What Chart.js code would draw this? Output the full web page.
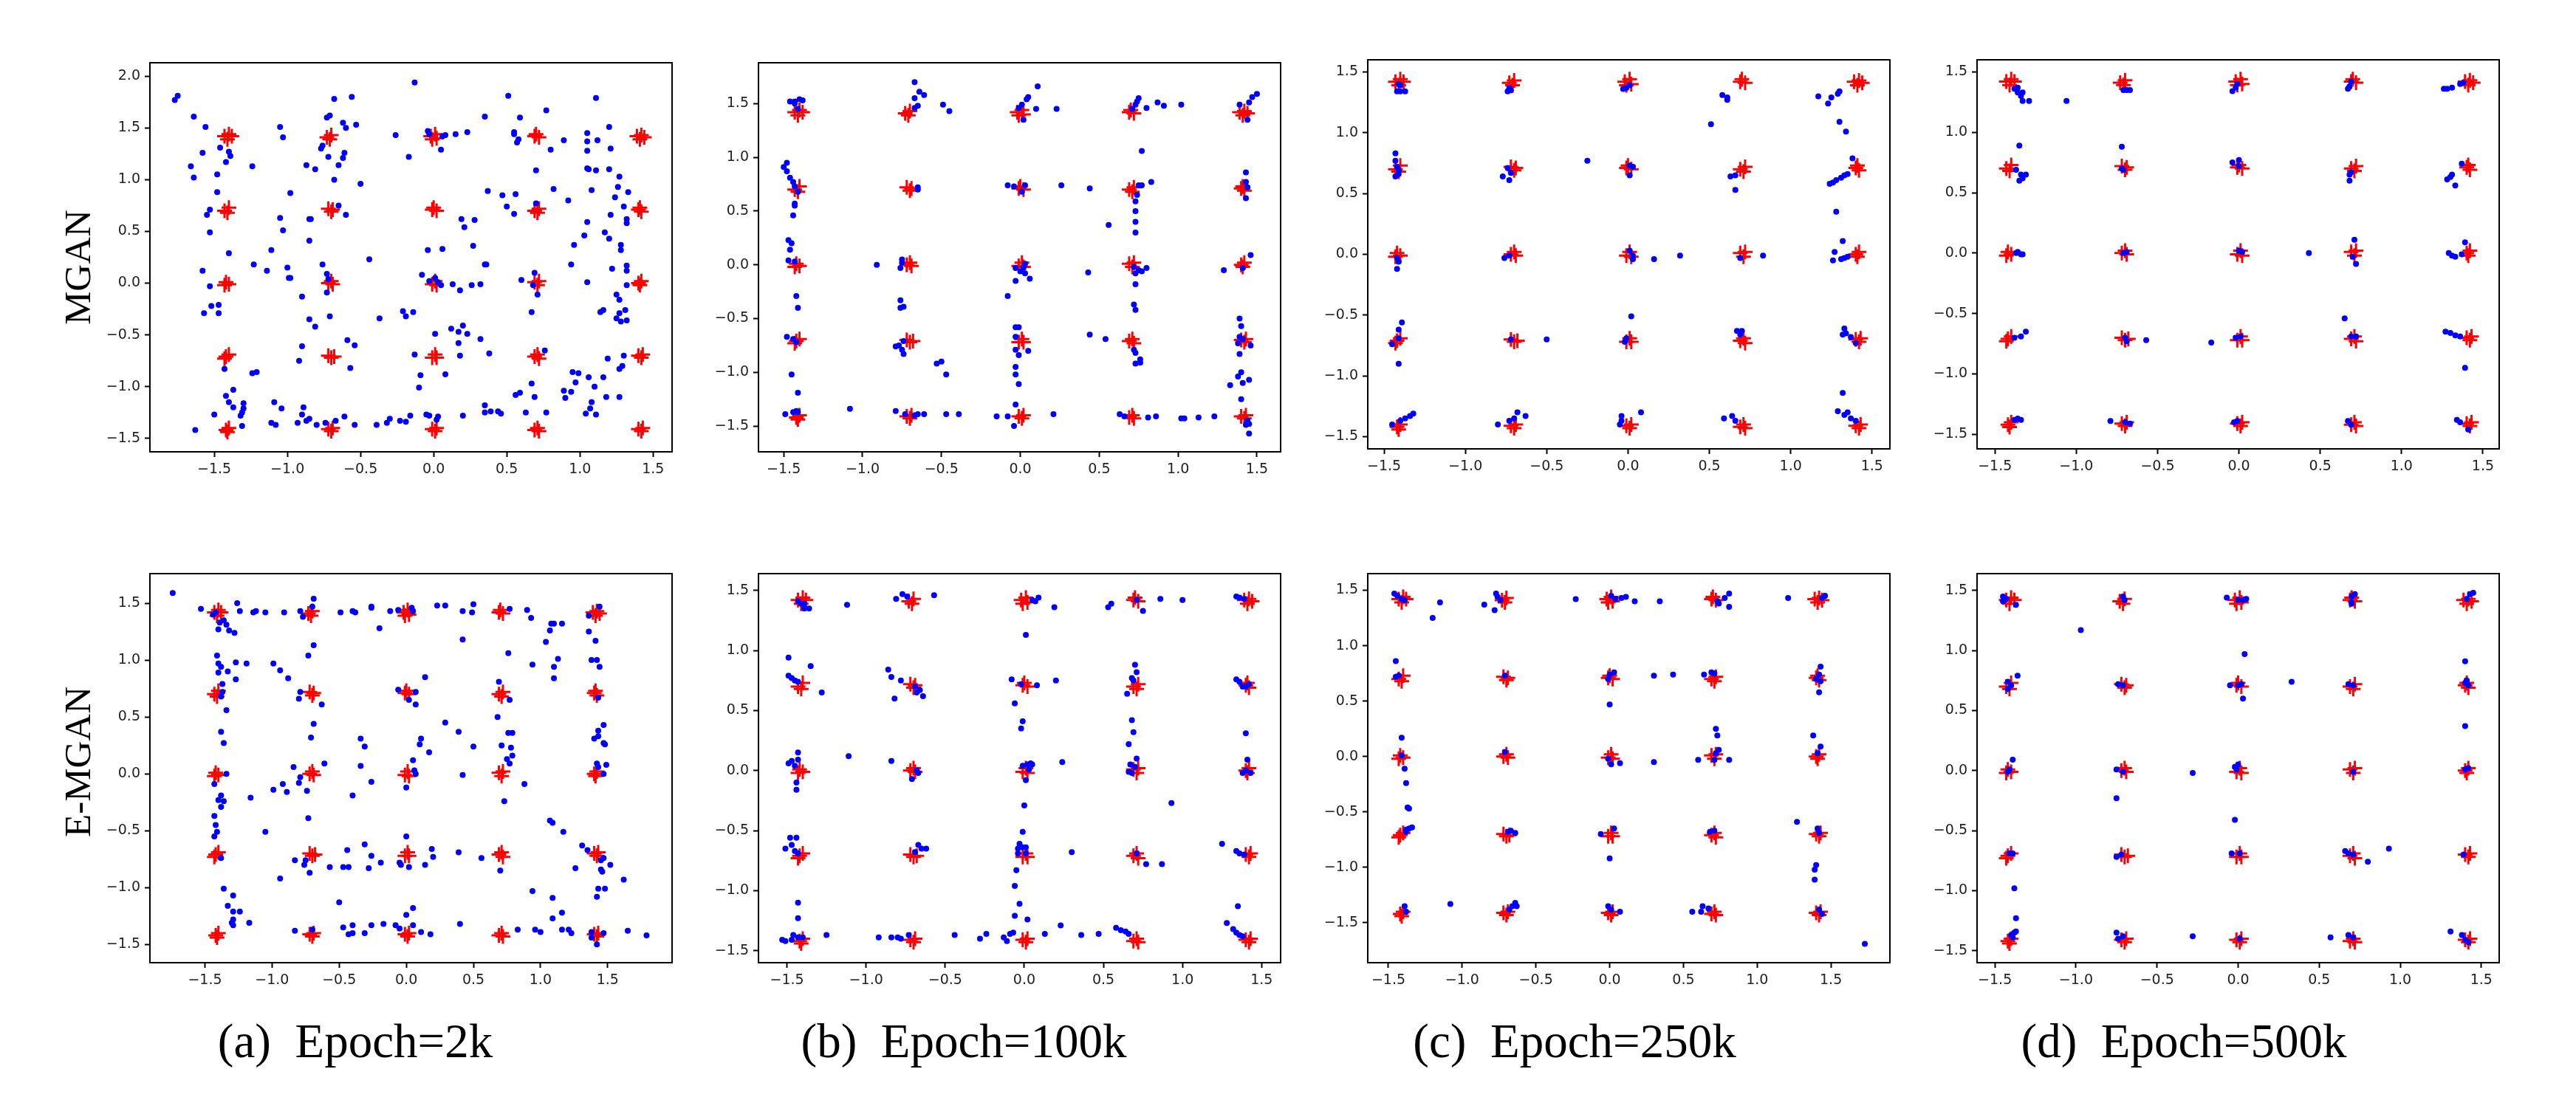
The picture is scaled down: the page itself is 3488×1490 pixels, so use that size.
<!DOCTYPE html>
<html>
<head>
<meta charset="utf-8">
<script src="https://cdn.jsdelivr.net/npm/chart.js@4.4.0/dist/chart.umd.min.js"></script>
<style>
  html, body { margin: 0; padding: 0; background: #fff; }
  #page { position: relative; width: 3488px; height: 1490px; overflow: hidden; }
  canvas { position: absolute; }
  .rowlab, .cap { position: absolute; font-family: "Liberation Serif", serif; color: #000; white-space: pre; }
  .rowlab { font-size: 51px; transform: translate(-50%, -50%) rotate(-90deg); }
  .cap { font-size: 65px; transform: translate(-50%, -50%); }
</style>
</head>
<body>
<div id="page"></div>
<script>
// real samples (red +), same 5x5 grid of gaussians in every panel
const realPts = [
  [-1.43,1.42],[-1.40,1.44],[-1.41,1.39],[-1.38,1.42],
  [-0.73,1.41],[-0.70,1.43],[-0.71,1.39],
  [-0.02,1.42],[0.01,1.44],[0.02,1.40],[-0.01,1.39],
  [0.69,1.42],[0.72,1.41],[0.70,1.44],
  [1.39,1.42],[1.42,1.43],[1.41,1.39],[1.44,1.41],
  [-1.43,0.70],[-1.40,0.73],[-1.41,0.68],
  [-0.72,0.72],[-0.70,0.69],[-0.69,0.71],
  [-0.01,0.71],[0.02,0.70],[0.0,0.73],
  [0.69,0.70],[0.72,0.72],[0.71,0.68],
  [1.40,0.71],[1.42,0.69],[1.41,0.73],
  [-1.42,0.01],[-1.40,-0.01],[-1.43,-0.02],
  [-0.72,0.0],[-0.70,0.02],[-0.69,-0.01],
  [-0.01,-0.01],[0.01,0.02],[0.02,-0.02],
  [0.69,0.01],[0.71,-0.02],[0.72,0.02],
  [1.40,0.0],[1.42,0.02],[1.41,-0.02],
  [-1.42,-0.71],[-1.40,-0.69],[-1.43,-0.73],
  [-0.72,-0.70],[-0.70,-0.72],[-0.68,-0.71],
  [-0.01,-0.72],[0.01,-0.69],[0.02,-0.72],
  [0.69,-0.71],[0.71,-0.69],[0.72,-0.73],
  [1.40,-0.70],[1.42,-0.72],[1.43,-0.69],
  [-1.42,-1.42],[-1.40,-1.40],[-1.41,-1.44],
  [-0.72,-1.41],[-0.70,-1.43],[-0.69,-1.40],
  [-0.01,-1.41],[0.01,-1.43],[0.02,-1.40],
  [0.69,-1.42],[0.71,-1.40],[0.72,-1.43],
  [1.40,-1.41],[1.42,-1.43],[1.43,-1.40]
];

// generated samples (blue dots), MGAN row
const fakeA1 = [
  [-1.77,1.77],[-1.75,1.81],[-1.64,1.61],[-1.56,1.51],[-1.58,1.26],[-1.66,1.13],[-1.64,1.02],
  [-1.46,1.31],[-1.40,1.27],[-1.39,1.23],[-1.42,1.17],[-1.48,1.05],[-1.48,0.88],[-1.53,0.71],[-1.55,0.66],
  [-1.53,0.49],[-1.40,0.29],[-1.58,0.12],[-1.53,-0.03],[-1.57,-0.29],[-1.52,-0.22],[-1.47,-0.21],[-1.47,-0.29],
  [-1.43,-0.83],[-1.42,-1.09],[-1.37,-1.03],[-1.40,-1.15],[-1.37,-1.20],[-1.30,-1.16],[-1.30,-1.21],[-1.31,-1.25],[-1.32,-1.28],
  [-1.50,-1.27],[-1.63,-1.42],[-1.31,-1.38],
  [-1.24,1.13],[-1.05,1.51],[-1.03,1.41],[-1.05,0.63],[-1.03,0.51],[-1.11,0.32],[-1.23,0.18],[-1.14,0.12],
  [-1.00,0.15],[-0.99,0.05],[-0.98,0.05],[-0.98,0.87],[-0.87,1.14],[-0.81,1.10],[-0.76,1.33],[-0.77,1.30],
  [-0.73,1.60],[-0.71,1.62],[-0.68,1.78],[-0.56,1.80],[-0.62,1.55],[-0.60,1.50],[-0.53,1.53],
  [-0.72,1.22],[-0.61,1.26],[-0.62,1.21],[-0.65,1.14],[-0.68,1.00],[-0.50,0.96],[-0.65,0.75],[-0.60,0.66],
  [-0.85,0.62],[-0.84,0.62],[-0.85,0.41],[-0.76,0.18],[-0.73,0.09],[-0.72,0.04],[-0.73,-0.09],[-0.90,-0.13],
  [-0.71,-0.32],[-0.85,-0.35],[-0.81,-0.42],[-0.90,-0.61],[-0.92,-0.75],[-0.59,-0.55],[-0.54,-0.60],[-0.57,-0.82],
  [-0.44,0.23],[-0.37,-0.34],[-1.24,-0.87],[-1.21,-0.86],[-1.09,-1.15],[-1.04,-1.21],[-1.11,-1.35],[-1.08,-1.37],
  [-0.89,-1.20],[-0.90,-1.27],[-0.93,-1.35],[-0.87,-1.33],[-0.85,-1.31],[-0.80,-1.37],[-0.74,-1.35],
  [-0.67,-1.33],[-0.61,-1.29],[-0.54,-1.37],[-0.39,-1.37],[-0.32,-1.35],[-0.30,-1.31],[-0.23,-1.33],[-0.19,-1.34],[-0.16,-1.28],
  [-0.26,1.43],[-0.13,1.94],[-0.17,1.22],[-0.04,1.47],[-0.03,1.44],[0.08,1.43],[0.06,1.42],[0.15,1.44],[0.23,1.46],[0.05,1.29],
  [-0.13,-0.69],[-0.09,-0.89],[-0.10,-1.01],[-0.21,-0.27],[-0.19,-0.32],[-0.14,-0.28],[-0.08,0.08],[-0.04,0.32],[0.06,0.33],
  [-0.03,0.02],[0.01,0.05],[0.03,0.01],[0.05,-0.02],[0.13,-0.01],[0.18,-0.07],[0.26,-0.02],[0.32,-0.01],
  [0.19,0.62],[0.21,0.54],[0.28,0.61],[0.27,0.36],[0.35,0.18],[0.36,0.18],[0.01,-0.49],
  [0.12,-0.44],[0.17,-0.47],[0.20,-0.41],[0.23,-0.49],[0.32,-0.54],[0.17,-0.58],[0.18,-0.70],[0.08,-0.88],[0.38,-0.68],
  [0.20,-1.28],[-0.05,-1.27],[-0.03,-1.28],[0.03,-1.29],[0.02,-1.32],
  [0.35,-1.18],[0.35,-1.25],[0.39,-1.24],[0.44,-1.24],[0.46,-1.26],
  [0.35,1.61],[0.51,1.81],[0.59,1.60],[0.55,1.44],[0.55,1.46],[0.57,1.36],[0.58,1.39],[0.77,1.67],[0.89,1.38],[0.80,1.29],[0.70,1.09],
  [0.37,0.89],[0.47,0.85],[0.56,0.86],[0.50,0.74],[0.55,0.67],[0.70,0.77],[0.82,0.91],[0.92,0.80],
  [0.60,0.03],[0.69,0.10],[0.68,-0.02],[0.71,-0.11],[0.67,-0.28],[0.76,-0.65],[0.67,-0.97],[0.69,-1.10],[0.56,-1.08],[0.59,-1.06],
  [0.63,-1.25],[0.77,-1.25],[0.89,-1.04],[0.90,-1.11],[0.94,-1.05],[0.95,-0.86],[0.99,-0.87],[0.97,-0.96],
  [1.06,-0.91],[1.10,-1.00],[1.08,-1.15],[1.07,-1.21],[1.04,-1.26],[1.11,-1.27],[1.18,-1.10],[1.27,-1.10],
  [1.16,-0.91],[1.27,-0.83],[1.29,-0.80],[1.19,-0.73],[1.30,-0.70],
  [1.05,1.45],[1.05,1.37],[1.05,1.28],[1.12,1.38],[1.11,1.79],[1.20,1.51],[1.21,1.30],
  [1.06,1.10],[1.05,1.11],[1.11,1.09],[1.20,1.10],[1.27,1.03],[1.08,0.90],[1.26,0.93],[1.33,0.88],
  [1.24,0.83],[1.30,0.74],[1.21,0.66],[1.32,0.62],[1.32,0.58],[1.05,0.59],[1.03,0.46],[0.96,0.37],[1.17,0.49],[1.20,0.43],
  [1.28,0.37],[1.28,0.32],[0.94,0.18],[1.22,0.14],[1.32,0.17],[1.32,0.12],[1.32,-0.02],[1.05,0.01],[1.25,-0.11],[1.27,-0.16],
  [1.14,-0.28],[1.16,-0.26],[1.27,-0.29],[1.25,-0.34],[1.31,-0.26],[1.32,-0.36],[1.28,-0.37]
];
const fakeB1 = [
  [-1.46,1.52],[-1.43,1.52],[-1.40,1.54],[-1.38,1.53],[-1.41,1.45],[-1.43,1.50],
  [-1.50,0.91],[-1.48,0.95],[-1.48,0.87],[-1.46,0.81],[-1.44,0.77],[-1.43,0.73],[-1.41,0.68],[-1.43,0.57],[-1.43,0.55],[-1.44,0.46],
  [-1.47,0.23],[-1.45,0.20],[-1.46,0.14],[-1.47,0.04],[-1.43,0.03],[-1.42,-0.29],[-1.41,-0.40],
  [-1.48,-0.67],[-1.44,-0.69],[-1.42,-0.72],[-1.45,-1.02],[-1.41,-1.19],
  [-1.49,-1.39],[-1.44,-1.37],[-1.42,-1.36],[-1.41,-1.37],[-1.08,-1.34],
  [-0.67,1.70],[-0.64,1.61],[-0.61,1.58],[-0.67,1.55],[-0.65,1.48],[-0.67,1.46],[-0.49,1.49],[-0.45,1.43],
  [-0.65,0.72],[-0.65,0.70],[-0.91,0.00],[-0.75,0.05],[-0.76,-0.03],[-0.75,0.02],
  [-0.76,-0.33],[-0.76,-0.40],[-0.74,-0.39],
  [-0.79,-0.76],[-0.77,-0.75],[-0.75,-0.79],[-0.74,-0.83],[-0.74,-0.71],[-0.53,-0.92],[-0.50,-0.90],[-0.47,-1.02],
  [-0.79,-1.36],[-0.73,-1.39],[-0.67,-1.40],[-0.65,-1.39],[-0.61,-1.39],[-0.47,-1.39],[-0.39,-1.39],
  [0.11,1.66],[0.04,1.54],[0.05,1.56],[0.01,1.49],[-0.01,1.46],[0.02,1.35],[0.10,1.45],[0.23,1.45],
  [-0.08,0.74],[-0.04,0.73],[0.01,0.68],[0.03,0.74],[0.26,0.74],[0.44,0.71],
  [-0.03,-0.03],[0.00,-0.06],[0.02,-0.03],[0.03,0.01],[-0.03,-0.15],[0.06,-0.13],[0.03,-0.08],
  [-0.08,-0.29],[0.43,-0.07],[0.56,0.37],
  [-0.03,-0.58],[-0.01,-0.58],[-0.03,-0.67],[-0.03,-0.79],[-0.01,-0.84],[0.05,-0.80],[-0.03,-0.95],[-0.03,-1.02],[-0.01,-1.11],[-0.03,-1.30],
  [-0.15,-1.41],[-0.08,-1.41],[-0.04,-1.50],[0.21,-1.39],[0.44,-0.65],[0.54,-0.69],
  [0.75,1.55],[0.74,1.52],[0.73,1.49],[0.71,1.45],[0.80,1.46],[0.87,1.51],[0.91,1.48],[1.02,1.49],[0.77,1.06],
  [0.83,0.77],[0.75,0.74],[0.77,0.74],[0.74,0.65],[0.73,0.59],[0.73,0.50],[0.73,0.40],[0.73,0.30],
  [0.72,-0.02],[0.75,-0.05],[0.73,-0.08],[0.77,-0.06],[0.80,-0.03],[0.73,-0.18],[0.72,-0.37],[0.73,-0.42],
  [0.72,-0.79],[0.73,-0.82],[0.76,-0.88],[0.76,-0.91],[0.73,-0.92],
  [0.63,-1.39],[0.66,-1.41],[0.81,-1.42],[0.86,-1.41],[1.02,-1.43],[1.04,-1.43],[1.13,-1.42],[1.23,-1.41],
  [1.39,1.49],[1.45,1.51],[1.47,1.56],[1.50,1.59],[1.44,1.35],
  [1.43,0.86],[1.43,0.77],[1.44,0.72],[1.43,0.62],[1.46,0.09],[1.41,-0.03],[1.29,-0.05],
  [1.39,-0.50],[1.40,-0.57],[1.39,-0.67],[1.41,-0.69],[1.38,-0.73],[1.46,-0.75],[1.39,-0.83],
  [1.40,-1.00],[1.38,-1.04],[1.33,-1.12],[1.41,-1.10],[1.45,-1.07],[1.40,-1.25],
  [1.44,-1.45],[1.45,-1.48],[1.45,-1.57],[1.43,-1.49]
];
const fakeC1 = [
  [-1.41,1.40],[-1.40,1.39],[-1.42,1.34],[-1.40,1.34],[-1.37,1.34],
  [-1.43,0.83],[-1.43,0.77],[-1.42,0.72],[-1.41,0.69],[-1.43,0.64],[-1.41,0.66],
  [-1.42,-0.03],[-1.41,-0.06],[-1.42,-0.12],
  [-1.39,-0.56],[-1.41,-0.62],[-1.41,-0.69],[-1.45,-0.74],[-1.41,-0.90],
  [-1.45,-1.40],[-1.40,-1.37],[-1.37,-1.35],[-1.34,-1.33],[-1.32,-1.31],
  [-0.73,1.37],[-0.72,1.35],[-0.74,1.34],
  [-0.77,0.64],[-0.73,0.61],[-0.74,0.71],[-0.72,0.67],[-0.25,0.77],
  [-0.76,-0.03],[-0.73,-0.01],[-0.50,-0.70],[-0.72,-0.70],
  [-0.80,-1.40],[-0.73,-1.37],[-0.70,-1.35],[-0.68,-1.30],[-0.63,-1.33],
  [-0.03,1.36],[-0.01,1.37],[0.01,1.39],
  [0.01,0.73],[0.03,0.72],[0.01,0.65],
  [0.01,0.03],[0.03,-0.01],[0.03,-0.04],[0.16,-0.04],[0.32,-0.01],[0.83,-0.01],
  [0.02,-0.51],[-0.01,-0.69],[-0.02,-0.72],
  [-0.04,-1.33],[-0.04,-1.37],[-0.05,-1.40],[0.08,-1.30],
  [0.58,1.31],[0.61,1.29],[0.61,1.27],[0.51,1.07],
  [0.63,0.64],[0.66,0.65],[0.66,0.53],[0.69,-0.03],
  [0.67,-0.63],[0.69,-0.66],[0.70,-0.63],
  [0.59,-1.35],[0.64,-1.33],[0.66,-1.37],
  [1.17,1.30],[1.23,1.24],[1.25,1.29],[1.29,1.32],[1.30,1.34],[1.30,1.09],[1.34,1.01],
  [1.38,0.79],[1.24,0.58],[1.26,0.59],[1.28,0.61],[1.31,0.63],[1.33,0.65],[1.35,0.66],
  [1.28,0.35],[1.32,0.11],
  [1.26,-0.05],[1.27,0.02],[1.31,-0.04],[1.33,-0.03],[1.35,-0.02],
  [1.33,-0.61],[1.34,-0.65],[1.32,-0.66],[1.37,-0.68],[1.40,-0.73],
  [1.32,-1.14],[1.29,-1.29],[1.33,-1.32],[1.35,-1.30],[1.37,-1.35],[1.40,-1.37]
];
const fakeD1 = [
  [-1.38,1.36],[-1.36,1.37],[-1.36,1.33],[-1.34,1.30],[-1.33,1.33],[-1.33,1.26],[-1.29,1.26],[-1.06,1.26],
  [-1.35,0.89],[-1.37,0.69],[-1.34,0.65],[-1.33,0.62],[-1.31,0.65],[-1.35,0.60],
  [-1.36,0.01],[-1.34,-0.01],[-1.33,-0.01],[-1.37,0.00],
  [-1.38,-0.70],[-1.34,-0.69],[-1.31,-0.65],
  [-1.38,-1.38],[-1.36,-1.37],[-1.34,-1.38],
  [-0.72,0.88],[-0.72,0.70],[-0.71,0.69],[-0.71,1.35],[-0.69,1.35],[-0.67,1.35],
  [-0.71,0.00],[-0.69,0.01],[-0.57,-0.72],[-0.17,-0.74],[-0.70,-0.70],[-0.69,-0.73],
  [-0.79,-1.39],[-0.70,-1.40],[-0.67,-1.41],
  [-0.04,1.34],[-0.02,1.37],[-0.01,1.40],[-0.04,0.75],[0.00,0.77],[0.00,0.72],
  [0.00,0.02],[0.02,0.01],[0.43,0.00],[-0.02,-0.70],[0.01,-0.69],[-0.03,-1.40],[-0.01,-1.39],
  [0.68,1.38],[0.69,1.42],[0.67,1.36],[0.68,0.60],[0.68,0.65],[0.69,0.67],
  [0.71,0.11],[0.70,-0.03],[0.72,-0.09],[0.65,-0.54],[0.69,-0.69],[0.72,-0.69],[0.67,-1.39],[0.69,-1.42],
  [1.26,1.36],[1.28,1.36],[1.31,1.37],[1.36,1.40],[1.38,1.41],
  [1.37,0.74],[1.28,0.61],[1.30,0.63],[1.31,0.65],[1.33,0.56],
  [1.39,0.09],[1.29,0.00],[1.31,-0.02],[1.33,-0.03],[1.37,-0.01],
  [1.27,-0.65],[1.30,-0.66],[1.33,-0.68],[1.36,-0.69],[1.39,-0.95],
  [1.34,-1.38],[1.36,-1.40],[1.41,-1.46]
];

// generated samples (blue dots), E-MGAN row
const fakeA2 = [
  [-1.74,1.59],[-1.53,1.45],[-1.44,1.40],[-1.42,1.42],
  [-1.26,1.50],[-1.24,1.43],[-1.14,1.42],[-1.12,1.43],[-1.05,1.42],[-0.91,1.42],[-0.79,1.43],[-0.77,1.38],
  [-0.69,1.54],[-0.70,1.47],
  [-0.49,1.42],[-0.40,1.43],[-0.38,1.42],[-0.26,1.46],[-0.26,1.47],[-0.12,1.43],[-0.06,1.44],[0.04,1.46],[0.05,1.43],
  [0.23,1.48],[0.29,1.48],[0.42,1.43],[0.50,1.49],[0.49,1.42],[0.77,1.45],[0.90,1.44],[0.93,1.37],
  [1.08,1.32],[1.10,1.32],[1.16,1.32],[1.07,1.26],[1.04,1.16],
  [1.36,1.39],[1.44,1.47],[1.36,1.25],[1.41,1.17],
  [-1.39,1.33],[-1.36,1.35],[-1.34,1.31],[-1.32,1.26],[-1.28,1.24],[-1.40,1.27],
  [-1.41,1.04],[-1.40,0.97],[-1.38,0.94],[-1.40,0.89],[-1.33,0.90],[-1.27,0.98],[-1.19,0.97],[-1.27,0.83],[-1.37,0.79],
  [-1.37,0.72],[-1.38,0.68],[-1.34,0.56],[-1.38,0.37],[-1.36,0.27],
  [-1.34,0.00],[-1.43,-0.09],[-1.40,-0.23],[-1.38,-0.19],[-1.36,-0.24],[-1.38,-0.29],
  [-1.43,-0.37],[-1.42,-0.45],[-1.41,-0.51],[-1.43,-0.55],[-1.38,-0.74],
  [-1.36,-1.01],[-1.29,-1.07],[-1.33,-1.16],[-1.29,-1.21],[-1.24,-1.21],[-1.29,-1.28],[-1.30,-1.31],[-1.29,-1.33],[-1.17,-1.31],
  [-1.16,-0.21],
  [-0.99,0.97],[-0.94,0.91],[-0.88,0.84],[-0.79,0.72],[-0.80,0.66],[-0.69,1.13],[-0.73,1.04],
  [-0.63,0.61],[-0.69,0.44],[-0.71,0.32],
  [-0.84,0.06],[-0.61,0.09],[-0.79,-0.03],[-0.80,-0.08],[-0.92,-0.09],[-0.89,-0.16],[-0.99,-0.14],[-0.74,-0.15],
  [-0.73,-0.39],[-1.05,-0.51],
  [-0.83,-0.76],[-0.75,-0.76],[-0.76,-0.80],[-0.72,-0.87],[-0.94,-0.92],
  [-0.57,-0.82],[-0.47,-0.82],[-0.43,-0.82],[-0.44,-0.67],[-0.31,-0.62],[-0.26,-0.72],[-0.28,-0.83],[-0.19,-0.78],[-0.05,-0.78],[-0.04,-0.80],
  [-0.34,0.31],[-0.31,0.24],[-0.34,0.07],[-0.26,-0.07],[-0.40,-0.19],
  [0.00,-0.12],[0.06,0.03],[0.07,0.00],[0.05,0.12],[0.10,0.26],[0.11,0.31],[0.17,0.19],
  [0.14,0.85],[0.07,0.72],[0.07,0.61],[0.02,0.65],[-0.06,0.74],
  [-0.20,1.28],[0.42,1.18],
  [0.29,0.45],[0.39,0.37],[0.50,0.24],[0.42,-0.01],
  [0.00,-0.55],[0.02,-0.82],[0.14,-0.80],[0.19,-0.66],[0.20,-0.73],[0.39,-0.69],[0.56,-0.74],
  [-0.50,-1.13],
  [-0.83,-1.38],[-0.70,-1.37],[-0.47,-1.35],[-0.43,-1.41],[-0.40,-1.33],[-0.40,-1.40],[-0.31,-1.40],[-0.26,-1.33],[-0.17,-1.32],[-0.08,-1.33],[-0.05,-1.36],[0.00,-1.24],[0.05,-1.33],[0.05,-1.18],[0.11,-1.39],[0.18,-1.41],
  [0.40,-1.32],
  [0.69,0.81],[0.76,1.06],[0.68,0.50],[0.77,0.65],[0.71,0.25],[0.76,0.36],[0.79,0.36],[0.78,0.23],[0.79,0.16],[0.75,0.13],[0.77,0.09],[0.88,-0.09],[0.73,-0.24],[0.70,-0.85],
  [0.94,0.96],[1.10,0.94],[1.10,0.84],[1.13,1.01],
  [1.07,-0.41],[1.09,-0.43],[1.17,-0.51],[1.26,-0.83],
  [0.94,-1.03],[1.09,-1.09],[1.16,-1.22],[1.09,-1.27],
  [0.83,-1.37],[0.96,-1.37],[1.00,-1.39],[1.16,-1.37],[1.21,-1.37],[1.23,-1.40],
  [1.38,1.00],[1.42,1.00],[1.44,0.94],[1.43,0.67],
  [1.47,0.43],[1.43,0.38],[1.40,0.31],[1.43,0.33],[1.47,0.27],[1.48,0.26],
  [1.42,0.09],[1.49,0.08],[1.43,0.06],[1.47,0.00],
  [1.31,-0.63],[1.35,-0.67],[1.45,-0.76],[1.47,-0.74],[1.45,-0.84],[1.46,-0.86],[1.52,-0.80],[1.62,-0.93],
  [1.43,-1.01],[1.48,-1.01],[1.42,-1.08],
  [1.38,-1.39],[1.38,-1.44],[1.42,-1.50],[1.47,-1.40],[1.65,-1.38],[1.79,-1.42]
];
const fakeB2 = [
  [-1.43,1.41],[-1.41,1.39],[-1.39,1.39],[-1.39,1.35],[-1.36,1.35],[-1.12,1.38],
  [-1.49,0.94],[-1.35,0.87],[-1.49,0.79],[-1.47,0.77],[-1.45,0.75],[-1.43,0.74],[-1.28,0.65],
  [-1.43,0.15],[-1.49,0.06],[-1.47,0.08],[-1.43,0.09],[-1.45,0.04],[-1.44,-0.10],[-1.44,-0.16],
  [-1.48,-0.56],[-1.44,-0.56],[-1.51,-0.65],[-1.47,-0.62],[-1.45,-0.67],[-1.43,-0.69],
  [-1.43,-1.10],[-1.43,-1.23],
  [-1.53,-1.41],[-1.51,-1.42],[-1.47,-1.41],[-1.46,-1.37],[-1.43,-1.39],[-1.40,-1.39],[-1.25,-1.37],
  [-0.77,1.47],[-0.74,1.45],[-0.81,1.43],[-0.57,1.46],
  [-0.86,0.84],[-0.84,0.78],[-0.78,0.75],[-0.82,0.60],
  [-0.69,0.70],[-0.68,0.65],[-0.66,0.67],[-0.64,0.62],
  [-1.11,0.12],[-0.84,0.08],[-0.68,0.00],[-0.67,-0.02],[-0.71,-0.07],
  [-0.67,-0.62],[-0.65,-0.65],[-0.62,-0.65],[-0.69,-0.68],
  [-0.92,-1.39],[-0.84,-1.39],[-0.80,-1.39],[-0.73,-1.37],[-0.78,-1.40],
  [-0.44,-1.37],[-0.28,-1.40],[-0.24,-1.36],
  [0.01,1.13],[0.05,1.42],[0.07,1.41],[0.09,1.44],[0.19,1.36],
  [-0.08,0.76],[-0.02,0.72],[0.08,0.71],[0.20,0.75],
  [-0.06,0.56],[-0.01,0.41],[-0.02,0.35],
  [-0.01,0.04],[0.02,0.05],[0.04,0.06],[0.05,0.05],[0.03,0.01],[0.01,-0.08],[0.24,0.07],
  [0.00,-0.29],[-0.01,-0.51],
  [-0.03,-0.61],[-0.04,-0.65],[-0.01,-0.64],[0.01,-0.64],[0.01,-0.69],[-0.04,-0.69],[0.30,-0.68],
  [-0.05,-0.83],[-0.06,-0.96],[-0.03,-1.11],[-0.06,-1.21],[0.02,-1.24],
  [-0.13,-1.39],[-0.11,-1.42],[-0.09,-1.36],[-0.07,-1.35],[0.13,-1.36],[0.23,-1.29],[0.36,-1.37],[0.47,-1.36],
  [0.53,1.36],[0.55,1.39],[0.71,1.42],[0.75,1.33],[0.86,1.43],[1.00,1.42],
  [0.70,0.88],[0.71,0.82],[0.68,0.77],[0.69,0.75],[0.65,0.64],
  [0.68,0.42],[0.69,0.32],[0.66,0.22],
  [0.71,0.10],[0.67,0.05],[0.70,0.03],[0.66,-0.01],[0.68,-0.02],
  [0.93,-0.27],[0.71,-0.69],[0.77,-0.78],[0.87,-0.78],
  [0.58,-1.31],[0.61,-1.33],[0.64,-1.34],[0.66,-1.36],
  [1.34,1.45],[1.36,1.44],[1.39,1.43],
  [1.34,0.76],[1.36,0.74],[1.38,0.70],[1.40,0.70],[1.42,0.72],
  [1.40,0.31],[1.41,0.09],[1.38,-0.02],[1.40,0.00],[1.43,-0.02],
  [1.25,-0.61],[1.34,-0.67],[1.36,-0.69],[1.39,-0.70],
  [1.35,-1.13],
  [1.28,-1.27],[1.32,-1.32],[1.34,-1.35],[1.36,-1.37],[1.38,-1.38]
];
const fakeC2 = [
  [-1.46,1.47],[-1.44,1.45],[-1.41,1.42],[-1.39,1.41],[-1.15,1.39],[-1.20,1.25],
  [-1.45,0.86],[-1.45,0.72],[-1.43,0.73],
  [-1.41,0.17],[-1.41,0.01],[-1.39,-0.11],[-1.38,-0.24],[-1.37,-0.46],[-1.36,-0.47],
  [-1.38,-0.66],[-1.36,-0.65],[-1.34,-0.64],[-1.38,-0.68],
  [-1.08,-1.33],[-1.39,-1.35],[-1.38,-1.40],
  [-0.85,1.37],[-0.78,1.32],[-0.77,1.47],[-0.76,1.44],[-0.74,1.41],
  [-0.71,0.73],[-0.71,0.04],
  [-0.69,-0.68],[-0.67,-0.67],[-0.64,-0.69],
  [-0.68,-1.38],[-0.66,-1.35],[-0.64,-1.32],[-0.63,-1.35],
  [-0.23,1.42],
  [0.01,1.45],[0.04,1.42],[0.08,1.43],[0.11,1.44],[0.17,1.40],[0.34,1.40],
  [0.00,0.74],[0.03,0.76],[-0.01,0.70],[0.30,0.73],[0.43,0.74],[0.00,0.47],
  [-0.01,-0.02],[0.01,-0.07],[0.07,-0.06],[0.30,-0.05],
  [0.03,-0.65],[-0.06,-0.70],[0.00,-0.92],
  [-0.01,-1.35],[0.01,-1.38],[0.07,-1.40],
  [0.64,0.74],[0.69,0.76],[0.71,0.75],
  [0.72,0.25],[0.73,0.19],[0.74,0.06],[0.72,0.03],[0.71,-0.03],[0.81,-0.03],[0.60,-0.03],
  [0.73,1.40],[0.74,1.38],[0.78,1.43],[0.81,1.47],[0.81,1.35],
  [0.56,-1.40],[0.62,-1.40],[0.63,-1.35],[0.67,-1.37],
  [0.68,-0.68],[0.71,-0.67],
  [1.21,1.43],
  [1.43,0.81],[1.42,0.74],[1.40,0.70],[1.43,0.68],[1.42,0.58],
  [1.46,1.45],[1.44,1.43],
  [1.38,0.19],[1.43,0.09],[1.41,0.03],
  [1.27,-0.59],[1.41,-0.65],[1.42,-0.69],
  [1.40,-0.98],[1.39,-1.02],[1.39,-1.11],
  [1.42,-1.38],[1.44,-1.42],
  [1.73,-1.69]
];
const fakeD2 = [
  [-1.45,1.45],[-1.43,1.43],[-1.45,1.41],[-1.37,1.38],[-0.97,1.17],
  [-1.36,0.79],[-1.42,0.74],[-1.40,0.71],[-1.42,0.68],
  [-1.39,0.09],[-1.41,0.01],[-1.42,-0.01],
  [-1.41,-0.69],[-1.39,-0.69],
  [-1.38,-0.98],[-1.37,-1.23],
  [-1.40,-1.37],[-1.38,-1.35],[-1.37,-1.34],[-1.39,-1.39],
  [-0.71,1.45],[-0.70,1.42],
  [-0.74,0.72],[-0.71,0.71],
  [-0.75,0.01],[-0.71,-0.01],[-0.28,-0.02],[-0.75,-0.23],
  [-0.75,-0.72],[-0.72,-0.70],
  [-0.75,-1.35],[-0.74,-1.40],[-0.71,-1.38],[-0.28,-1.38],
  [-0.07,1.44],[0.00,1.42],[0.03,1.42],[0.05,1.43],
  [-0.05,0.71],[0.00,0.71],[0.02,0.72],[0.03,0.60],[0.04,0.97],
  [-0.02,0.03],[0.00,0.05],[-0.01,0.01],[-0.02,-0.41],
  [-0.04,-0.69],[0.01,-0.69],[0.01,-1.40],[0.33,0.74],
  [0.70,1.45],[0.72,1.47],[0.70,1.40],[0.70,1.39],
  [0.68,0.72],[0.71,0.71],[0.71,-0.01],
  [0.66,-0.67],[0.68,-0.69],[0.71,-0.70],[0.93,-0.65],[0.80,-0.76],
  [0.57,-1.39],[0.68,-1.37],[0.71,-1.39],
  [1.43,1.47],[1.45,1.48],[1.41,1.43],
  [1.40,0.91],[1.40,0.73],[1.41,0.75],[1.42,0.71],[1.40,0.37],
  [1.40,0.01],[1.42,0.02],[1.39,-0.70],
  [1.31,-1.34],[1.38,-1.37],[1.40,-1.41],[1.42,-1.43]
];

const ticksStd = [-1.5, -1.0, -0.5, 0.0, 0.5, 1.0, 1.5];
const ticksTall = [-1.5, -1.0, -0.5, 0.0, 0.5, 1.0, 1.5, 2.0];
const rowNames = ['MGAN', 'E-MGAN'];
const captions = ['(a)  Epoch=2k', '(b)  Epoch=100k', '(c)  Epoch=250k', '(d)  Epoch=500k'];

const panels = [
  { fake: fakeA1, xr: [-1.94, 1.63], yr: [-1.63, 2.13], yt: ticksTall, left: 203,  top: 85 },
  { fake: fakeB1, xr: [-1.66, 1.65], yr: [-1.74, 1.88], yt: ticksStd,  left: 1027, top: 85 },
  { fake: fakeC1, xr: [-1.60, 1.61], yr: [-1.60, 1.60], yt: ticksStd,  left: 1852, top: 81 },
  { fake: fakeD1, xr: [-1.61, 1.60], yr: [-1.62, 1.60], yt: ticksStd,  left: 2677, top: 81 },
  { fake: fakeA2, xr: [-1.91, 1.98], yr: [-1.66, 1.76], yt: ticksStd,  left: 203,  top: 777 },
  { fake: fakeB2, xr: [-1.68, 1.62], yr: [-1.60, 1.64], yt: ticksStd,  left: 1027, top: 777 },
  { fake: fakeC2, xr: [-1.64, 1.90], yr: [-1.86, 1.65], yt: ticksStd,  left: 1852, top: 777 },
  { fake: fakeD2, xr: [-1.61, 1.61], yr: [-1.60, 1.64], yt: ticksStd,  left: 2677, top: 777 }
];

const W = 707, H = 527, PADL = 110, PADT = 20, PADR = 25, PADB = 60;
const page = document.getElementById('page');

const framePlugin = {
  id: 'frame',
  afterDatasetsDraw(chart) {
    const { ctx, chartArea: a } = chart;
    ctx.save();
    ctx.strokeStyle = '#000';
    ctx.lineWidth = 2;
    ctx.strokeRect(a.left, a.top, a.right - a.left, a.bottom - a.top);
    ctx.restore();
  }
};

const fmt = v => (v < 0 ? '\u2212' : '') + Math.abs(v).toFixed(1);

function axis(range, ticks, fitProp, fitVal) {
  return {
    type: 'linear',
    min: range[0],
    max: range[1],
    afterBuildTicks: s => { s.ticks = ticks.map(v => ({ value: v })); },
    afterFit: s => { s[fitProp] = fitVal; },
    grid: { display: true, drawOnChartArea: false, drawTicks: true, tickLength: 7, tickWidth: 2, tickColor: '#000' },
    border: { display: false },
    ticks: {
      autoSkip: false, maxRotation: 0, padding: 6,
      color: '#222', font: { family: 'DejaVu Sans', size: 19 },
      callback: fmt
    }
  };
}

panels.forEach(p => {
  const cv = document.createElement('canvas');
  cv.width = W + PADL + PADR;
  cv.height = H + PADT + PADB;
  cv.style.left = (p.left - PADL) + 'px';
  cv.style.top = (p.top - PADT) + 'px';
  page.appendChild(cv);

  new Chart(cv.getContext('2d'), {
    type: 'scatter',
    data: {
      datasets: [
        {
          label: 'generated',
          data: p.fake.map(d => ({ x: d[0], y: d[1] })),
          pointStyle: 'circle',
          pointRadius: 4,
          backgroundColor: '#0000ff',
          borderColor: '#0000ff',
          borderWidth: 0
        },
        {
          label: 'real',
          data: realPts.map(d => ({ x: d[0], y: d[1] })),
          pointStyle: 'cross',
          pointRadius: 10,
          borderColor: '#ff0000',
          backgroundColor: '#ff0000',
          borderWidth: 3
        }
      ]
    },
    options: {
      responsive: false,
      animation: false,
      events: [],
      layout: { padding: { top: PADT, right: PADR, left: 0, bottom: 0 } },
      plugins: { legend: { display: false }, tooltip: { enabled: false } },
      scales: {
        x: axis(p.xr, ticksStd, 'height', PADB),
        y: axis(p.yr, p.yt, 'width', PADL)
      }
    },
    plugins: [framePlugin]
  });
});

// row labels
const rowCenters = [[105, 362], [105, 1032]];
rowNames.forEach((t, i) => {
  const d = document.createElement('div');
  d.className = 'rowlab';
  d.textContent = t;
  d.style.left = rowCenters[i][0] + 'px';
  d.style.top = rowCenters[i][1] + 'px';
  page.appendChild(d);
});

// column captions
const capX = [481, 1305, 2132, 2957];
captions.forEach((t, i) => {
  const d = document.createElement('div');
  d.className = 'cap';
  d.textContent = t;
  d.style.left = capX[i] + 'px';
  d.style.top = '1410px';
  page.appendChild(d);
});
</script>
</body>
</html>
